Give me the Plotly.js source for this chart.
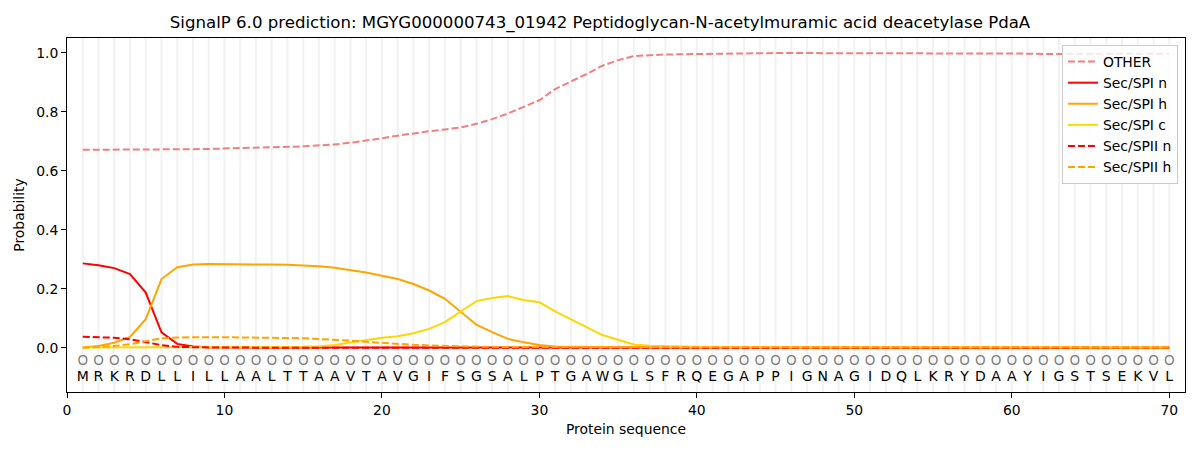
<!DOCTYPE html>
<html>
<head>
<meta charset="utf-8">
<script src="https://cdn.plot.ly/plotly-3.0.1.min.js"></script>
<style>
  html, body { margin: 0; padding: 0; background: #fff; }
  #chart { width: 1200px; height: 450px; }
</style>
</head>
<body>
<div id="chart"></div>
<script>
// residues of the sequence, position 1..70
const sequence = 'MRKRDLLILLAALTTAAVTAVGIFSGSALPTGAWGLSFRQEGAPPIGNAGIDQLKRYDAAYIGSTSEKVL'.split('');
const positions = sequence.map((_, i) => i + 1);

const other = [
  0.671, 0.671, 0.671, 0.671, 0.672, 0.672, 0.672, 0.673, 0.674, 0.675,
  0.676, 0.678, 0.679, 0.681, 0.683, 0.685, 0.689, 0.695, 0.702, 0.710,
  0.719, 0.727, 0.734, 0.740, 0.747, 0.759, 0.775, 0.794, 0.816, 0.839,
  0.877, 0.902, 0.928, 0.956, 0.975, 0.989, 0.992, 0.994, 0.995, 0.996,
  0.997, 0.998, 0.998, 0.999, 0.999, 0.999, 0.999, 0.999, 0.999, 0.999,
  0.999, 0.999, 0.999, 0.999, 0.999, 0.998, 0.998, 0.998, 0.997, 0.997,
  0.997, 0.996, 0.996, 0.995, 0.995, 0.995, 0.996, 0.996, 0.997, 0.997
];
const spiN = [
  0.286, 0.280, 0.270, 0.250, 0.187, 0.052, 0.013, 0.004, 0.002, 0.001,
  0.001, 0.001, 0.001, 0.001, 0.001, 0.001, 0.001, 0.001, 0.001, 0.001,
  0.001, 0.001, 0.001, 0.001, 0.001, 0.001, 0.001, 0.001, 0.001, 0.001,
  0, 0, 0, 0, 0, 0, 0, 0, 0, 0,
  0, 0, 0, 0, 0, 0, 0, 0, 0, 0,
  0, 0, 0, 0, 0, 0, 0, 0, 0, 0,
  0, 0, 0, 0, 0, 0, 0, 0, 0, 0
];
const spiH = [
  0.001, 0.006, 0.017, 0.037, 0.097, 0.233, 0.273, 0.282, 0.284, 0.284,
  0.284, 0.283, 0.282, 0.281, 0.279, 0.276, 0.271, 0.264, 0.255, 0.244,
  0.233, 0.216, 0.194, 0.166, 0.123, 0.078, 0.053, 0.030, 0.019, 0.009,
  0.004, 0.003, 0.002, 0.002, 0.002, 0.002, 0.002, 0.002, 0.002, 0.001,
  0.001, 0.001, 0.001, 0.001, 0.001, 0.001, 0.001, 0.001, 0.001, 0.001,
  0.001, 0.001, 0.001, 0.001, 0.001, 0.001, 0.001, 0.001, 0.001, 0.001,
  0.001, 0.001, 0.001, 0.001, 0.001, 0.001, 0.001, 0.001, 0.001, 0.001
];
const spiC = [
  0.001, 0.001, 0.001, 0.001, 0.001, 0.001, 0.001, 0.001, 0.001, 0.001,
  0.001, 0.001, 0.001, 0.002, 0.003, 0.005, 0.009, 0.018, 0.027, 0.034,
  0.039, 0.049, 0.064, 0.087, 0.123, 0.158, 0.169, 0.175, 0.162, 0.154,
  0.123, 0.097, 0.071, 0.043, 0.027, 0.011, 0.007, 0.005, 0.004, 0.003,
  0.002, 0.002, 0.002, 0.002, 0.002, 0.001, 0.001, 0.001, 0.001, 0.001,
  0.001, 0.001, 0.001, 0.001, 0.001, 0.001, 0.001, 0.001, 0.001, 0.001,
  0.001, 0.001, 0.001, 0.001, 0.001, 0.001, 0.001, 0.001, 0.001, 0.001
];
const spiiN = [
  0.037, 0.036, 0.034, 0.029, 0.020, 0.009, 0.003, 0.001, 0.001, 0.001,
  0, 0, 0, 0, 0, 0, 0, 0, 0, 0,
  0, 0, 0, 0, 0, 0, 0, 0, 0, 0,
  0, 0, 0, 0, 0, 0, 0, 0, 0, 0,
  0, 0, 0, 0, 0, 0, 0, 0, 0, 0,
  0, 0, 0, 0, 0, 0, 0, 0, 0, 0,
  0, 0, 0, 0, 0, 0, 0, 0, 0, 0
];
const spiiH = [
  0.000, 0.002, 0.006, 0.012, 0.021, 0.032, 0.035, 0.036, 0.036, 0.036,
  0.035, 0.035, 0.034, 0.033, 0.032, 0.030, 0.027, 0.024, 0.020, 0.016,
  0.012, 0.010, 0.008, 0.006, 0.005, 0.004, 0.003, 0.003, 0.002, 0.002,
  0.001, 0.001, 0.001, 0.001, 0.001, 0.001, 0.001, 0.001, 0.001, 0.001,
  0.001, 0.001, 0.001, 0.001, 0.001, 0.001, 0.001, 0.001, 0.001, 0.001,
  0.001, 0.001, 0.001, 0.001, 0.001, 0.001, 0.001, 0.001, 0.001, 0.001,
  0.001, 0.001, 0.001, 0.001, 0.001, 0.001, 0.001, 0.001, 0.001, 0.001
];
const xTicks = [0, 10, 20, 30, 40, 50, 60, 70];
const yTicks = [0.0, 0.2, 0.4, 0.6, 0.8, 1.0];

const font = 'DejaVu Sans, Liberation Sans, sans-serif';
const yMin = -0.15, yMax = 1.05;

// light vertical guide at each residue
const guideX = [], guideY = [];
positions.forEach(p => { guideX.push(p, p, null); guideY.push(yMin, yMax, null); });

const dash = '7px,3px';
function line(name, y, color, dashed) {
  return {
    x: positions, y: y, name: name, type: 'scatter', mode: 'lines',
    line: { color: color, width: 2, dash: dashed ? dash : 'solid' }
  };
}

const data = [
  {
    x: guideX, y: guideY, type: 'scatter', mode: 'lines', showlegend: false,
    hoverinfo: 'skip', line: { color: 'rgba(128,128,128,0.1)', width: 2 }
  },
  {
    x: positions, y: positions.map(() => -0.047), type: 'scatter', mode: 'text',
    text: positions.map(() => 'O'), showlegend: false, hoverinfo: 'skip',
    textfont: { family: font, size: 13.5, color: 'grey' }
  },
  {
    x: positions, y: positions.map(() => -0.10), type: 'scatter', mode: 'text',
    text: sequence, showlegend: false, hoverinfo: 'skip',
    textfont: { family: font, size: 14, color: 'black' }
  },
  line('OTHER', other, '#f08080', true),
  line('Sec/SPI n', spiN, 'red', false),
  line('Sec/SPI h', spiH, 'orange', false),
  line('Sec/SPI c', spiC, 'gold', false),
  line('Sec/SPII n', spiiN, 'red', true),
  line('Sec/SPII h', spiiH, 'orange', true)
];

const layout = {
  width: 1200,
  height: 450,
  margin: { l: 67, r: 15, t: 38, b: 58 },
  paper_bgcolor: 'white',
  plot_bgcolor: 'white',
  font: { family: font, size: 14, color: 'black' },
  title: {
    text: 'SignalP 6.0 prediction: MGYG000000743_01942 Peptidoglycan-N-acetylmuramic acid deacetylase PdaA',
    font: { family: font, size: 16.6 },
    x: 0.5, xanchor: 'center', y: 0.95, yanchor: 'middle'
  },
  xaxis: {
    range: [0, 71],
    tickvals: xTicks,
    ticktext: xTicks.map(String),
    ticks: 'outside', ticklen: 5, tickcolor: 'black',
    showgrid: false, zeroline: false,
    showline: true, mirror: true, linecolor: 'black', linewidth: 1,
    tickfont: { family: font, size: 13.9 },
    title: { text: 'Protein sequence', font: { family: font, size: 13.9 }, standoff: 7 }
  },
  yaxis: {
    range: [yMin, yMax],
    tickvals: yTicks,
    ticktext: yTicks.map(v => v.toFixed(1)),
    ticks: 'outside', ticklen: 5, tickcolor: 'black',
    showgrid: false, zeroline: false,
    showline: true, mirror: true, linecolor: 'black', linewidth: 1,
    tickfont: { family: font, size: 13.9 },
    title: { text: 'Probability', font: { family: font, size: 13.9 }, standoff: 8 }
  },
  legend: {
    x: 0.9937, y: 0.98, xanchor: 'right', yanchor: 'top',
    bgcolor: 'rgba(255,255,255,0.8)', bordercolor: '#cccccc', borderwidth: 1,
    font: { family: font, size: 13.9 },
    tracegroupgap: 0
  },
  showlegend: true
};

Plotly.newPlot('chart', data, layout, { staticPlot: true });
</script>
</body>
</html>
